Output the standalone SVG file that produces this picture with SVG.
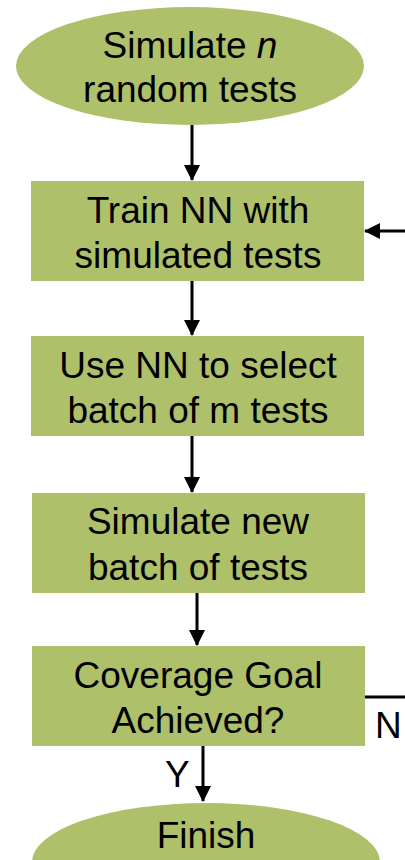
<svg xmlns="http://www.w3.org/2000/svg" width="405" height="860" viewBox="0 0 405 860">
  <style>
    .node { fill: #AEC06A; }
    .label { font-family: "Liberation Sans", Arial, sans-serif; font-size: 37px; fill: #000; text-anchor: middle; }
    .edge { stroke: #000; stroke-width: 3; fill: none; }
    .tag { font-family: "Liberation Sans", Arial, sans-serif; font-size: 37px; fill: #000; }
  </style>
  <defs>
    <marker id="arrow" markerUnits="userSpaceOnUse" markerWidth="16" markerHeight="16" viewBox="0 0 16 16" refX="15" refY="8" orient="auto">
      <path d="M0,0 L16,8 L0,16 Z" fill="#000"/>
    </marker>
  </defs>
  <rect width="405" height="860" fill="#fff"/>

  <g id="start">
    <ellipse class="node" cx="190" cy="66" rx="174" ry="59"/>
    <text class="label" x="190" y="58">Simulate <tspan font-style="italic">n</tspan></text>
    <text class="label" x="190" y="102">random tests</text>
  </g>

  <g id="train">
    <rect class="node" x="31" y="181" width="333" height="100"/>
    <text class="label" x="198" y="223">Train NN with</text>
    <text class="label" x="198" y="268">simulated tests</text>
  </g>

  <g id="select">
    <rect class="node" x="31" y="336" width="333" height="100"/>
    <text class="label" x="198" y="378">Use NN to select</text>
    <text class="label" x="198" y="423">batch of m tests</text>
  </g>

  <g id="simulate">
    <rect class="node" x="32" y="493" width="333" height="100"/>
    <text class="label" x="198" y="534">Simulate new</text>
    <text class="label" x="198" y="580">batch of tests</text>
  </g>

  <g id="check">
    <rect class="node" x="32" y="646" width="333" height="100"/>
    <text class="label" x="198" y="688">Coverage Goal</text>
    <text class="label" x="198" y="733">Achieved?</text>
  </g>

  <g id="finish">
    <ellipse class="node" cx="206" cy="862" rx="174" ry="59"/>
    <text class="label" x="206" y="848">Finish</text>
  </g>

  <g id="connectors">
    <line class="edge" x1="192" y1="125" x2="192" y2="180" marker-end="url(#arrow)"/>
    <line class="edge" x1="192" y1="281" x2="192" y2="335" marker-end="url(#arrow)"/>
    <line class="edge" x1="192" y1="436" x2="192" y2="492" marker-end="url(#arrow)"/>
    <line class="edge" x1="197" y1="593" x2="197" y2="645" marker-end="url(#arrow)"/>
    <line class="edge" x1="203" y1="746" x2="203" y2="801" marker-end="url(#arrow)"/>
    <!-- loop-back: "No" leaves the check box and re-enters the training box -->
    <line class="edge" x1="365" y1="697" x2="405" y2="697"/>
    <line class="edge" x1="405" y1="231" x2="365" y2="231" marker-end="url(#arrow)"/>
    <text class="tag" x="375" y="738">N</text>
    <text class="tag" x="165" y="787">Y</text>
  </g>
</svg>
